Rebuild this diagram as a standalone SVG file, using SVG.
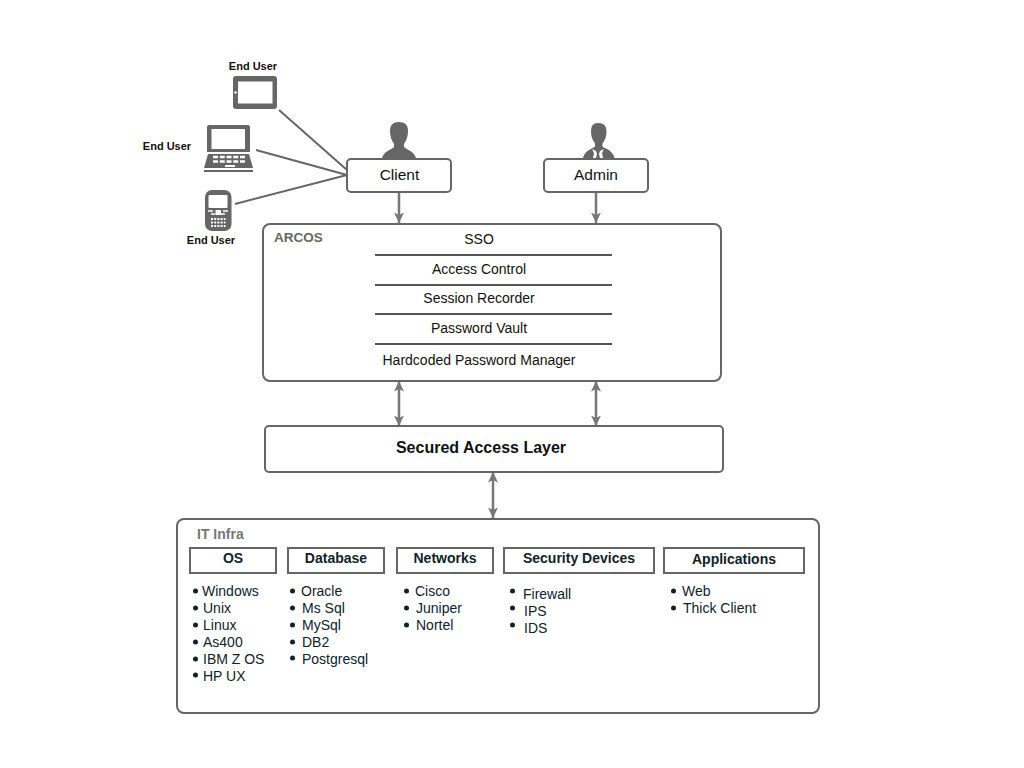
<svg xmlns="http://www.w3.org/2000/svg" width="1024" height="768" viewBox="0 0 1024 768">
<style>
text{font-family:"Liberation Sans",Arial,sans-serif;fill:#111}
.box{fill:#fff;stroke:#666;stroke-width:2}
.head{fill:#fff;stroke:#666;stroke-width:2}
.ht{font-size:14px;font-weight:bold;text-anchor:middle;fill:#10222a}
.li{font-size:14px;fill:#10222a}
.b{fill:#10222a}
.m{font-size:14px;text-anchor:middle}
.eu{font-size:11px;font-weight:bold;text-anchor:middle}
.grey{fill:#666;font-weight:bold;font-size:13.500px}
.c{stroke:#666;stroke-width:2;fill:none}
.a{stroke:#777;stroke-width:2.500;fill:none}
.ic{fill:#666}
.sep{stroke:#555;stroke-width:2}
</style>
<defs>
<marker id="ah" markerUnits="userSpaceOnUse" markerWidth="12" markerHeight="12" refX="10.500" refY="5.500" orient="auto-start-reverse"><path d="M0 0.500L10.500 5.500L0 10.500L2.500 5.500Z" fill="#777"/></marker>
</defs>
<g id="connectors">
<path class="c" d="M279 110L347 170M256 150L347 175M235 204L347 175"/>
<path class="a" marker-end="url(#ah)" d="M399 192V223"/>
<path class="a" marker-end="url(#ah)" d="M596 192V223"/>
<path class="a" marker-start="url(#ah)" marker-end="url(#ah)" d="M399 381V426"/>
<path class="a" marker-start="url(#ah)" marker-end="url(#ah)" d="M596 381V426"/>
<path class="a" marker-start="url(#ah)" marker-end="url(#ah)" d="M493 472V518"/>
</g>
<g id="tablet">
<rect class="ic" x="233" y="76" width="44" height="33" rx="3"/><rect x="238" y="81.500" width="34.500" height="22" fill="#fff"/><circle cx="235.500" cy="92.500" r="1.200" fill="#fff"/>
<text class="eu" x="253" y="70">End User</text>
</g>
<g id="laptop">
<path class="ic" d="M209 125H248Q250 125 250 127V152H207V127Q207 125 209 125Z"/><rect x="211.500" y="129" width="33.500" height="20" fill="#fff"/>
<path class="ic" d="M208 154H249L253 168H204Z"/><rect class="ic" x="204" y="170" width="49" height="2"/>
<path d="M213 157h32M213 161.500h32" stroke="#fff" stroke-width="2.500" stroke-dasharray="5 1.750"/><rect x="225" y="165" width="10" height="2" fill="#fff"/>
<text class="eu" x="167" y="150">End User</text>
</g>
<g id="phone">
<rect class="ic" x="205" y="190" width="26.500" height="41" rx="7"/><rect x="208.500" y="195" width="19" height="13" rx="1" fill="#fff"/>
<path d="M208 211h5M223 211h5M211 214h4M221 214h4" stroke="#fff" stroke-width="1.300"/><rect x="215.500" y="210" width="5.500" height="5" fill="#fff"/>
<path d="M211 219h14.500M211 222.500h14.500M211 226h14.500" stroke="#fff" stroke-width="2" stroke-dasharray="2 1.200"/>
<text class="eu" x="211" y="244">End User</text>
</g>
<g id="client-person">
<path class="ic" d="M399 122c6 0 9 3 9 9c0 6-2 10-4 13v3c3 3 10 4 12 11h-34c2-7 9-8 12-11v-3c-2-3-4-7-4-13c0-6 3-9 9-9Z"/>
</g>
<g id="admin-person">
<path class="ic" d="M598 123c6 0 8.500 3 8.500 9c0 5-2 9-4 11.500v3c2 2 10 3 12 11.500h-31.500c2-8 10-9.500 12-11.500v-3c-2-2.500-4-6.500-4-11.500c0-6 2-9 7-9Z"/>
<path d="M592 149l6 3l6-3l-2 4l1 5h-10l1-5Z" fill="#fff"/><path d="M596 151h4l-1 3l1 4h-4l1-4Z" fill="#666"/>
</g>
<g id="client"><rect class="box" x="347" y="159" width="104" height="33" rx="4"/><text x="399.500" y="179.500" font-size="15.500" text-anchor="middle">Client</text></g>
<g id="admin"><rect class="box" x="544" y="159" width="104" height="33" rx="4"/><text x="596" y="179.500" font-size="15.500" text-anchor="middle">Admin</text></g>
<g id="arcos">
<rect class="box" x="263" y="224" width="458" height="157" rx="7"/>
<text class="grey" x="274" y="242">ARCOS</text>
<text class="m" x="479" y="244">SSO</text>
<line class="sep" x1="375" y1="255" x2="612" y2="255"/>
<text class="m" x="479" y="274">Access Control</text>
<line class="sep" x1="375" y1="285" x2="612" y2="285"/>
<text class="m" x="479" y="303">Session Recorder</text>
<line class="sep" x1="375" y1="314" x2="612" y2="314"/>
<text class="m" x="479" y="333">Password Vault</text>
<line class="sep" x1="375" y1="344" x2="612" y2="344"/>
<text class="m" x="479" y="365">Hardcoded Password Manager</text>
</g>
<g id="secured-access-layer"><rect class="box" x="265" y="426" width="458" height="46" rx="4"/><text x="481" y="453" font-size="16" font-weight="bold" text-anchor="middle">Secured Access Layer</text></g>
<g id="it-infra">
<rect class="box" x="177" y="519" width="642" height="194" rx="7"/>
<text x="197" y="539" font-size="14" font-weight="bold" style="fill:#777">IT Infra</text>
</g>
<g id="os">
<rect class="head" x="190" y="548" width="86" height="25"/><text class="ht" x="233" y="563">OS</text>
<g class="b"><circle cx="195.500" cy="591" r="2.500"/><circle cx="195.500" cy="608" r="2.500"/><circle cx="195.500" cy="625" r="2.500"/><circle cx="195.500" cy="642" r="2.500"/><circle cx="195.500" cy="659" r="2.500"/><circle cx="195.500" cy="675" r="2.500"/></g>
<text class="li" x="202" y="596">Windows</text><text class="li" x="203" y="613">Unix</text><text class="li" x="203" y="630">Linux</text><text class="li" x="203" y="647">As400</text><text class="li" x="203" y="664">IBM Z OS</text><text class="li" x="203" y="681">HP UX</text>
</g>
<g id="database">
<rect class="head" x="288" y="548" width="96" height="25"/><text class="ht" x="336" y="563">Database</text>
<g class="b"><circle cx="292.500" cy="591" r="2.500"/><circle cx="292.500" cy="608" r="2.500"/><circle cx="292.500" cy="625" r="2.500"/><circle cx="292.500" cy="642" r="2.500"/><circle cx="292.500" cy="658" r="2.500"/></g>
<text class="li" x="301" y="596">Oracle</text><text class="li" x="302" y="613">Ms Sql</text><text class="li" x="302" y="630">MySql</text><text class="li" x="302" y="647">DB2</text><text class="li" x="302" y="664">Postgresql</text>
</g>
<g id="networks">
<rect class="head" x="397" y="548" width="96" height="25"/><text class="ht" x="445" y="563">Networks</text>
<g class="b"><circle cx="406.500" cy="591" r="2.500"/><circle cx="406.500" cy="608" r="2.500"/><circle cx="406.500" cy="625" r="2.500"/></g>
<text class="li" x="415" y="596">Cisco</text><text class="li" x="416" y="613">Juniper</text><text class="li" x="416" y="630">Nortel</text>
</g>
<g id="security-devices">
<rect class="head" x="504" y="548" width="150" height="25"/><text class="ht" x="579" y="563">Security Devices</text>
<g class="b"><circle cx="512.500" cy="591" r="2.500"/><circle cx="512.500" cy="608" r="2.500"/><circle cx="512.500" cy="625" r="2.500"/></g>
<text class="li" x="523" y="599">Firewall</text><text class="li" x="524" y="616">IPS</text><text class="li" x="524" y="633">IDS</text>
</g>
<g id="applications">
<rect class="head" x="664" y="548" width="140" height="25"/><text class="ht" x="734" y="564">Applications</text>
<g class="b"><circle cx="673.500" cy="591" r="2.500"/><circle cx="673.500" cy="608" r="2.500"/></g>
<text class="li" x="682" y="596">Web</text><text class="li" x="683" y="613">Thick Client</text>
</g>
</svg>
